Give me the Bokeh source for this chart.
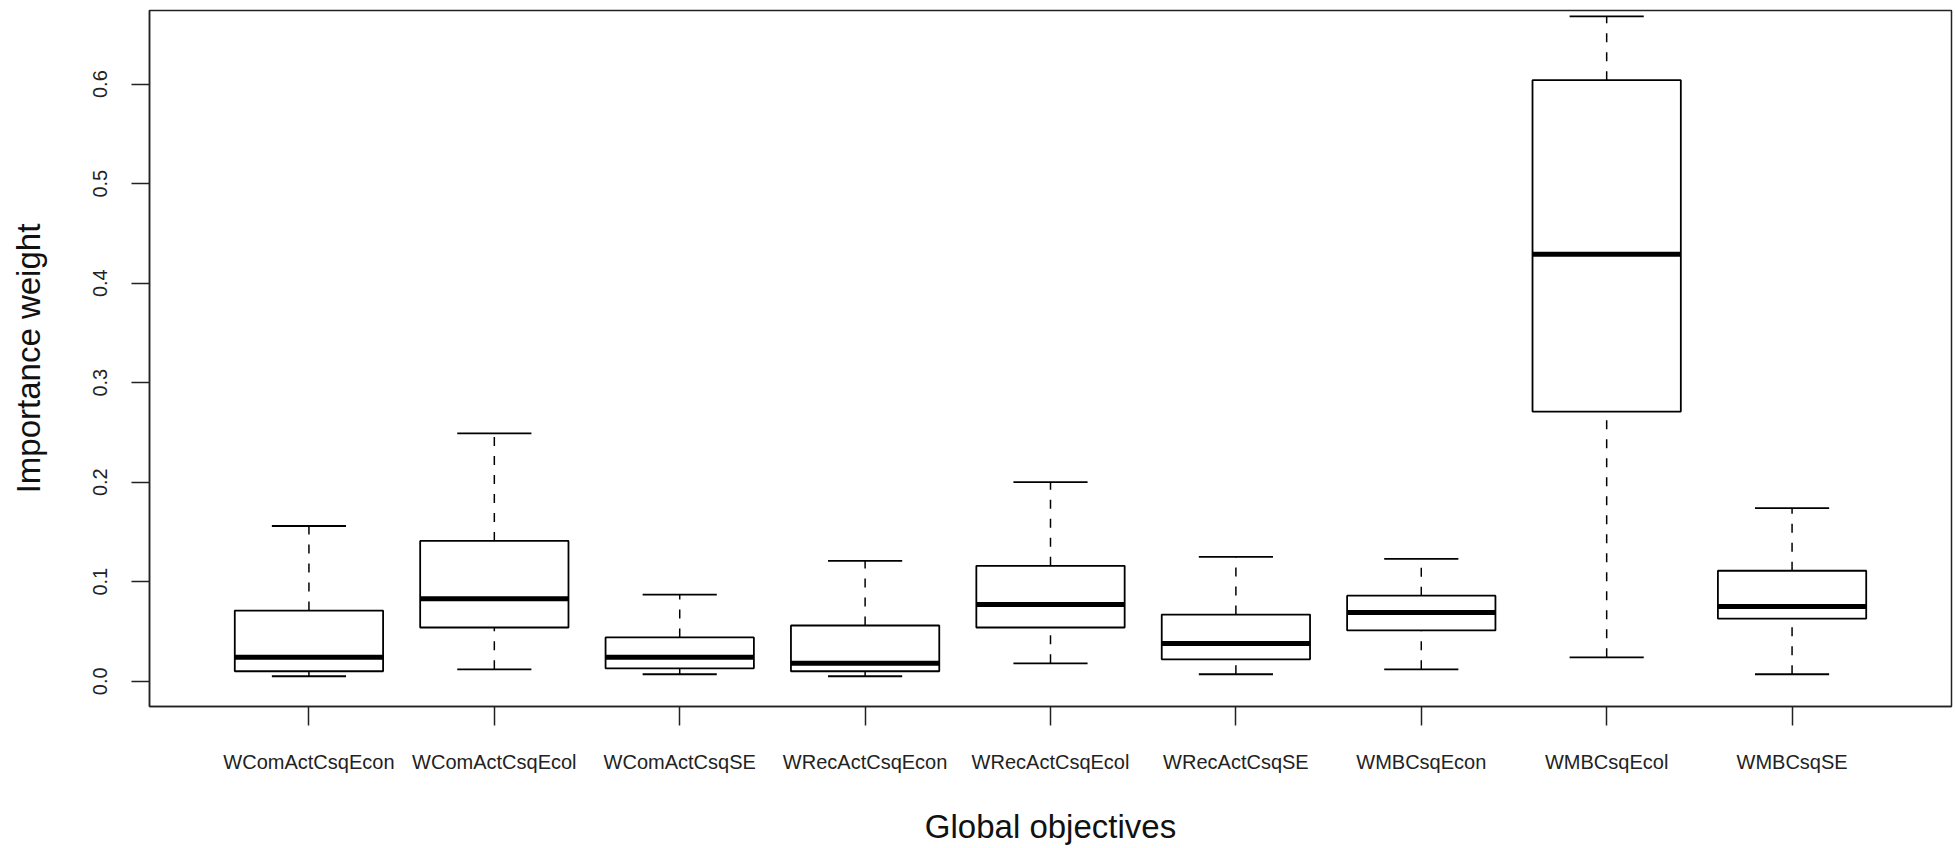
from bokeh.plotting import figure
from bokeh.models import FixedTicker, PrintfTickFormatter, ColumnDataSource
from bokeh.embed import file_html
from bokeh.resources import INLINE

categories = ["WComActCsqEcon", "WComActCsqEcol", "WComActCsqSE", "WRecActCsqEcon",
              "WRecActCsqEcol", "WRecActCsqSE", "WMBCsqEcon", "WMBCsqEcol", "WMBCsqSE"]
lower_whisker = [0.005, 0.012, 0.007, 0.005, 0.018, 0.007, 0.012, 0.024, 0.007]
q1 = [0.010, 0.054, 0.013, 0.010, 0.054, 0.022, 0.051, 0.271, 0.063]
median = [0.024, 0.083, 0.024, 0.018, 0.077, 0.038, 0.069, 0.429, 0.075]
q3 = [0.071, 0.141, 0.044, 0.056, 0.116, 0.067, 0.086, 0.604, 0.111]
upper_whisker = [0.156, 0.249, 0.087, 0.121, 0.200, 0.125, 0.123, 0.668, 0.174]
y_ticks = [0.0, 0.1, 0.2, 0.3, 0.4, 0.5, 0.6]

pos = list(range(1, len(categories) + 1))
box_w = 0.8
cap_w = 0.4

src = ColumnDataSource(dict(
    x=pos,
    left=[p - box_w / 2 for p in pos],
    right=[p + box_w / 2 for p in pos],
    cl=[p - cap_w / 2 for p in pos],
    cr=[p + cap_w / 2 for p in pos],
    lw=lower_whisker, q1=q1, med=median, q3=q3, uw=upper_whisker,
))

FONT = "Liberation Sans"

p = figure(width=1955, height=848, output_backend="svg", toolbar_location=None,
           x_range=(0.14, 9.86), y_range=(-0.0254, 0.674),
           min_border_left=149, min_border_right=4, min_border_top=10, min_border_bottom=142)
p.background_fill_color = "white"
p.border_fill_color = "white"
p.outline_line_color = "#222222"
p.outline_line_width = 1.5
p.xgrid.visible = False
p.ygrid.visible = False

# whiskers (dashed)
p.segment(x0="x", y0="q3", x1="x", y1="uw", source=src, line_color="black",
          line_width=1.5, line_dash="9 10")
p.segment(x0="x", y0="lw", x1="x", y1="q1", source=src, line_color="black",
          line_width=1.5, line_dash="9 10")
# caps
p.segment(x0="cl", y0="uw", x1="cr", y1="uw", source=src, line_color="black", line_width=1.8)
p.segment(x0="cl", y0="lw", x1="cr", y1="lw", source=src, line_color="black", line_width=1.8)
# boxes
p.quad(left="left", right="right", bottom="q1", top="q3", source=src,
       fill_color="white", line_color="black", line_width=1.8)
# medians
p.segment(x0="left", y0="med", x1="right", y1="med", source=src, line_color="black", line_width=5)

# x axis
xa = p.xaxis[0]
xa.ticker = FixedTicker(ticks=pos)
xa.major_label_overrides = {i: c for i, c in zip(pos, categories)}
xa.major_tick_out = 19
xa.major_tick_in = 0
xa.minor_tick_out = 0
xa.minor_tick_in = 0
xa.major_label_standoff = 25
xa.major_label_text_font = FONT
xa.major_label_text_font_size = "20px"
xa.major_label_text_color = "#222222"
xa.axis_label = "Global objectives"
xa.axis_label_text_font = FONT
xa.axis_label_text_font_size = "33px"
xa.axis_label_text_font_style = "normal"
xa.axis_label_text_color = "#111111"
xa.axis_label_standoff = 32
xa.axis_line_color = "#222222"
xa.axis_line_width = 1.5
xa.major_tick_line_color = "#222222"
xa.major_tick_line_width = 1.5

# y axis
ya = p.yaxis[0]
ya.ticker = FixedTicker(ticks=y_ticks)
ya.formatter = PrintfTickFormatter(format="%.1f")
ya.major_tick_out = 18
ya.major_tick_in = 0
ya.minor_tick_out = 0
ya.minor_tick_in = 0
ya.major_label_orientation = "vertical"
ya.major_label_standoff = 24
ya.major_label_text_font = FONT
ya.major_label_text_font_size = "20px"
ya.major_label_text_color = "#222222"
ya.axis_label = "Importance weight"
ya.axis_label_text_font = FONT
ya.axis_label_text_font_size = "33px"
ya.axis_label_text_font_style = "normal"
ya.axis_label_text_color = "#111111"
ya.axis_label_standoff = 44
ya.axis_line_color = "#222222"
ya.axis_line_width = 1.5
ya.major_tick_line_color = "#222222"
ya.major_tick_line_width = 1.5

open("out.html", "w").write(file_html(p, INLINE))
